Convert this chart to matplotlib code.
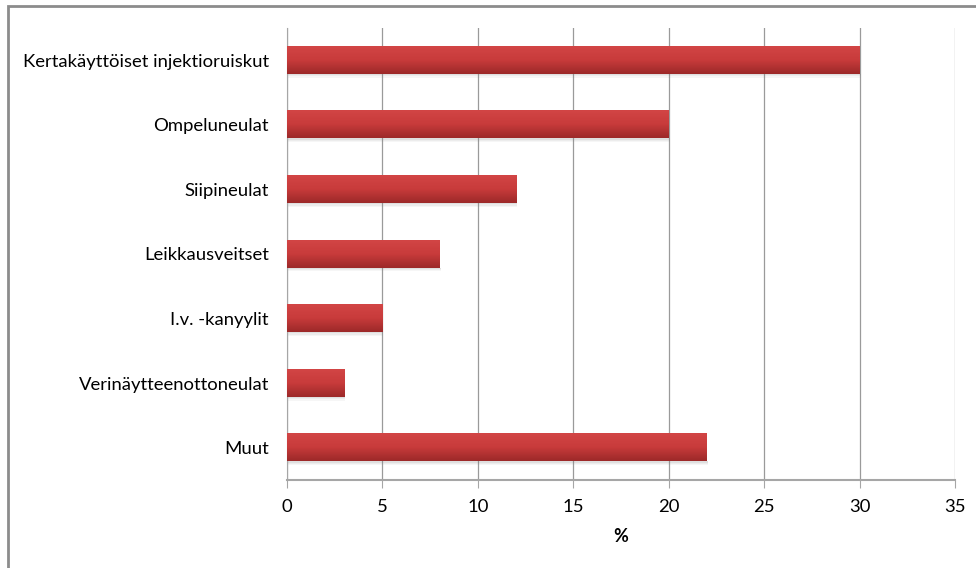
import numpy as np
import matplotlib.pyplot as plt
from matplotlib.colors import LinearSegmentedColormap
from matplotlib.patches import Rectangle

categories = ['Kertakäyttöiset injektioruiskut', 'Ompeluneulat', 'Siipineulat',
              'Leikkausveitset', 'I.v. -kanyylit', 'Verinäytteenottoneulat', 'Muut']
values = [30, 20, 12, 8, 5, 3, 22]
xticks = [0, 5, 10, 15, 20, 25, 30, 35]

plt.rcParams['font.family'] = ['Lato', 'DejaVu Sans']

fig = plt.figure(figsize=(9.76, 5.68), dpi=100)
# frame around the whole chart
fig.patches.append(Rectangle((8 / 976, -0.01), 1.1, 1 - 6 / 568 + 0.01, transform=fig.transFigure,
                             fill=False, edgecolor='#8c8c8c', linewidth=2))
ax = fig.add_axes([287 / 976, 1 - 480 / 568, (955 - 287) / 976, (480 - 28) / 568])

bar_cmap = LinearSegmentedColormap.from_list('bar', ['#d24545', '#c83b3b', '#9c2929'])
grad = np.linspace(0, 1, 64).reshape(-1, 1)
h = 0.42
ypos = np.arange(len(categories))[::-1]

for y, v in zip(ypos, values):
    # soft shadow beneath each bar
    for k, a in enumerate([0.25, 0.15, 0.07]):
        ax.add_patch(Rectangle((0, y - h / 2 - 0.02 * (k + 1)), v + 0.05, 0.02,
                               facecolor='#808080', alpha=a, edgecolor='none', zorder=2))
    ax.imshow(grad, cmap=bar_cmap, aspect='auto', extent=[0, v, y - h / 2, y + h / 2],
              zorder=3, interpolation='bilinear')

ax.set_xlim(0, 35)
ax.set_ylim(-0.5, len(categories) - 0.5)
ax.set_xticks(xticks)
ax.set_yticks(ypos)
ax.set_yticklabels(categories, fontsize=13.3)
ax.tick_params(axis='y', length=0, pad=13)
ax.tick_params(axis='x', direction='out', length=6, color='#a6a6a6', labelsize=13.3, pad=8)
ax.grid(axis='x', color='#9a9a9a', linewidth=0.9, zorder=0)
ax.set_axisbelow(True)
for s in ['top', 'right']:
    ax.spines[s].set_visible(False)
ax.spines['left'].set_color('#a6a6a6')
ax.spines['bottom'].set_color('#a6a6a6')
ax.spines['bottom'].set_linewidth(1.5)
ax.set_xlabel('%', fontsize=13, fontweight='bold', labelpad=9)

fig.savefig('out.png', dpi=100)
